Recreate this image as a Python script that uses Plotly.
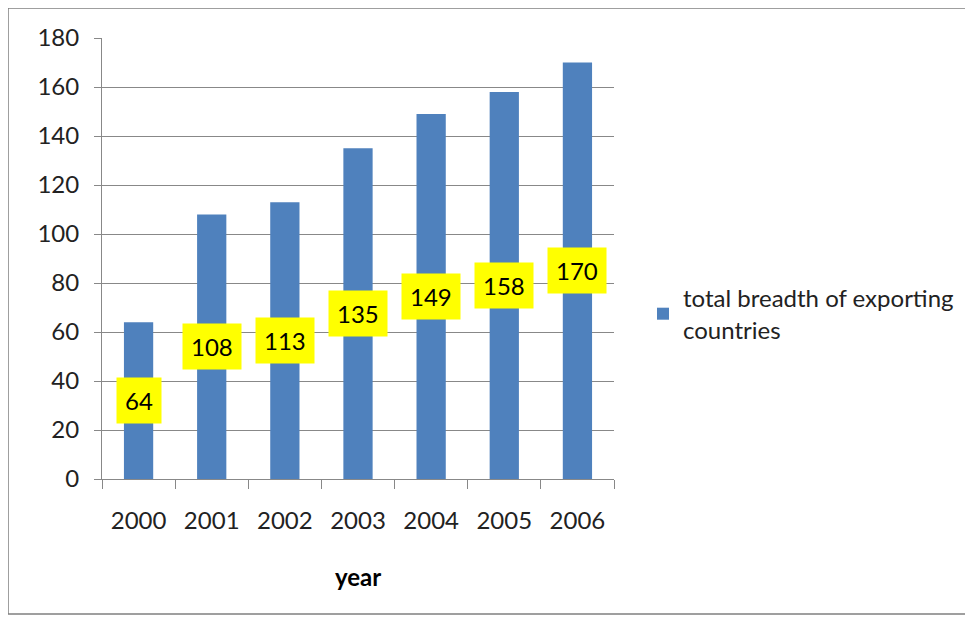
import plotly.graph_objects as go

years = ["2000", "2001", "2002", "2003", "2004", "2005", "2006"]
values = [64, 108, 113, 135, 149, 158, 170]
series_name = "total breadth of exporting<br>countries"

# page is drawn with an 8px body offset; plot area in page px: x 102-614, y 38-479
OFF = 8
W, H = 973, 617
L, R, T, B = 102 - OFF, 973 - 614 + OFF, 38 - OFF, 617 - 479 + OFF
pw, ph = W - L - R, H - T - B
FONT = "Lato, Open Sans, sans-serif"


def px(xs):
    return (xs - 102) / pw


def py(ys):
    return (479 - ys) / ph


idx = list(range(len(years)))

fig = go.Figure()
fig.add_trace(go.Bar(
    x=idx, y=values, name=series_name,
    marker=dict(color="#4F81BD", line=dict(width=0)),
    width=0.4,
))

for i, v in zip(idx, values):
    fig.add_annotation(
        x=i, y=v / 2, text=str(v), showarrow=False,
        font=dict(family=FONT, size=24, color="#000000"),
        bgcolor="#FFFF00", borderpad=8,
    )

fig.add_annotation(
    x=0.5, xref="paper", y=py(576), yref="paper", yanchor="middle",
    text="<b>year</b>", showarrow=False,
    font=dict(family=FONT, size=24, color="#000000"),
)

# outer frame
fig.add_shape(
    type="rect", xref="paper", yref="paper",
    x0=px(8), x1=px(990),
    y0=py(614), y1=py(8),
    line=dict(color="#808080", width=1.5), layer="below",
)

fig.update_layout(
    width=W, height=H,
    margin=dict(l=L, r=R, t=T, b=B),
    paper_bgcolor="white", plot_bgcolor="white",
    font=dict(family=FONT, size=24, color="#222222"),
    showlegend=True,
    legend=dict(
        x=px(643), xanchor="left",
        y=py(314), yanchor="middle",
        font=dict(size=24, color="#222222"),
        bgcolor="rgba(0,0,0,0)",
    ),
    xaxis=dict(
        range=[-0.5, 6.5],
        tickmode="array", tickvals=idx, ticktext=years,
        ticks="", showline=True, linecolor="#888888",
        showgrid=False, tickfont=dict(size=24), tickangle=0,
        ticklabelstandoff=20,
        minor=dict(tickmode="array", tickvals=[i - 0.5 for i in idx] + [6.5],
                   ticks="outside", ticklen=9, tickcolor="#888888", showgrid=False),
    ),
    yaxis=dict(
        range=[0, 180], dtick=20, ticks="outside", ticklen=7,
        tickcolor="#888888", showline=True, linecolor="#888888",
        showgrid=True, gridcolor="#888888", gridwidth=1,
        zeroline=False, tickfont=dict(size=24), ticklabelstandoff=10,
    ),
)

fig.write_html("out.html")
